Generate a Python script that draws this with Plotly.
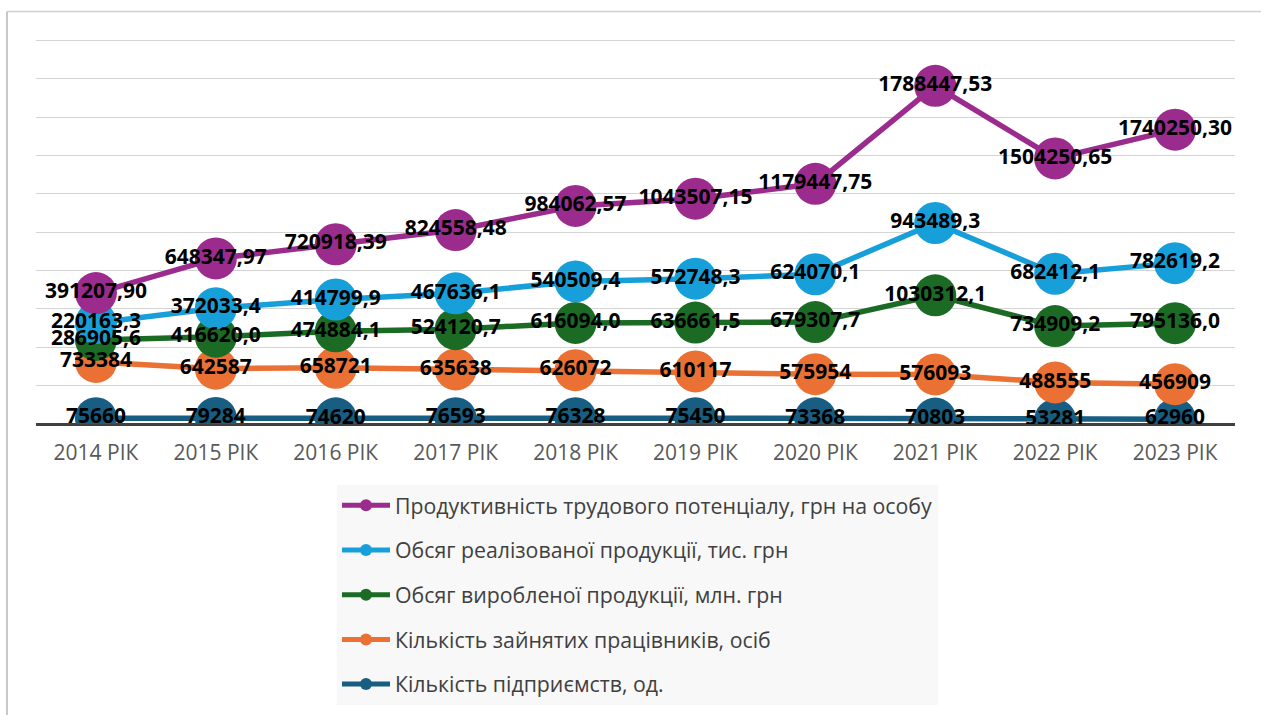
import plotly.graph_objects as go

years = ["2014 РІК", "2015 РІК", "2016 РІК", "2017 РІК", "2018 РІК",
         "2019 РІК", "2020 РІК", "2021 РІК", "2022 РІК", "2023 РІК"]

# stacked from bottom to top
enterprises = [75660, 79284, 74620, 76593, 76328, 75450, 73368, 70803, 53281, 62960]
employees = [733384, 642587, 658721, 635638, 626072, 610117, 575954, 576093, 488555, 456909]
produced = [286905.6, 416620.0, 474884.1, 524120.7, 616094.0, 636661.5, 679307.7,
            1030312.1, 734909.2, 795136.0]
sold = [220163.3, 372033.4, 414799.9, 467636.1, 540509.4, 572748.3, 624070.1,
        943489.3, 682412.1, 782619.2]
productivity = [391207.90, 648347.97, 720918.39, 824558.48, 984062.57, 1043507.15,
                1179447.75, 1788447.53, 1504250.65, 1740250.30]

names = ["Кількість підприємств, од.",
         "Кількість зайнятих працівників, осіб",
         "Обсяг виробленої продукції, млн. грн",
         "Обсяг реалізованої продукції, тис. грн",
         "Продуктивність трудового потенціалу, грн на особу"]
series = [enterprises, employees, produced, sold, productivity]
decimals = [0, 0, 1, 1, 2]
colors = ["#175E82", "#EA7133", "#1B6B24", "#169FD8", "#9B2C8E"]
ranks = [5, 4, 3, 2, 1]


def fmt(v, d):
    return f"{v:.{d}f}".replace(".", ",")


fig = go.Figure()
for name, vals, d, c, r in zip(names, series, decimals, colors, ranks):
    fig.add_trace(go.Scatter(
        x=years, y=vals, name=name, stackgroup="main", fill="none",
        mode="lines+markers",
        line=dict(color=c, width=5.5),
        marker=dict(color=c, size=42, line=dict(width=0)),
        legendgroup=name, legendrank=r,
    ))
for name, vals, d in zip(names, series, decimals):
    fig.add_trace(go.Scatter(
        x=years, y=vals, stackgroup="labels", fill="none", mode="text",
        text=[fmt(v, d) for v in vals], textposition="middle center",
        textfont=dict(family="Open Sans", size=21, color="#000000", weight="bold"),
        showlegend=False, hoverinfo="skip",
    ))

fig.update_layout(
    width=1261, height=715,
    margin=dict(l=36, r=26, t=38.5, b=291, autoexpand=False),
    paper_bgcolor="white", plot_bgcolor="white",
    font=dict(family="Open Sans", color="#404040"),
    showlegend=True,
    legend=dict(
        xref="container", yref="container",
        x=337 / 1261, y=1 - 485 / 715, xanchor="left", yanchor="top",
        bgcolor="#F8F8F8", font=dict(size=21.3, color="#404040", family="Open Sans"),
        traceorder="grouped", tracegroupgap=14, itemwidth=48, itemsizing="constant",
    ),
    xaxis=dict(
        type="category", range=[-0.5, 9.5], showgrid=False, showline=False,
        ticks="", tickfont=dict(size=21, color="#595959", family="Open Sans"),
        ticklabelstandoff=14,
    ),
    yaxis=dict(
        range=[0, 5020000], dtick=500000, showticklabels=False,
        showgrid=True, gridcolor="#D4D4D4", gridwidth=1,
        zeroline=True, zerolinecolor="#404040", zerolinewidth=3,
    ),
    shapes=[
        dict(type="line", xref="paper", yref="paper",
             x0=(7 - 36) / 1199, x1=(7 - 36) / 1199,
             y0=(424 - 11) / 385.5, y1=(424 - 720) / 385.5,
             line=dict(color="#C8C8C8", width=2)),
        dict(type="line", xref="paper", yref="paper",
             x0=(7 - 36) / 1199, x1=(1265 - 36) / 1199,
             y0=(424 - 11) / 385.5, y1=(424 - 11) / 385.5,
             line=dict(color="#D0D0D0", width=1.5)),
    ],
)

fig.write_html(
    "out.html",
    config={"displayModeBar": False},
    post_script="document.body.style.margin='0';document.body.style.overflow='hidden';",
)
